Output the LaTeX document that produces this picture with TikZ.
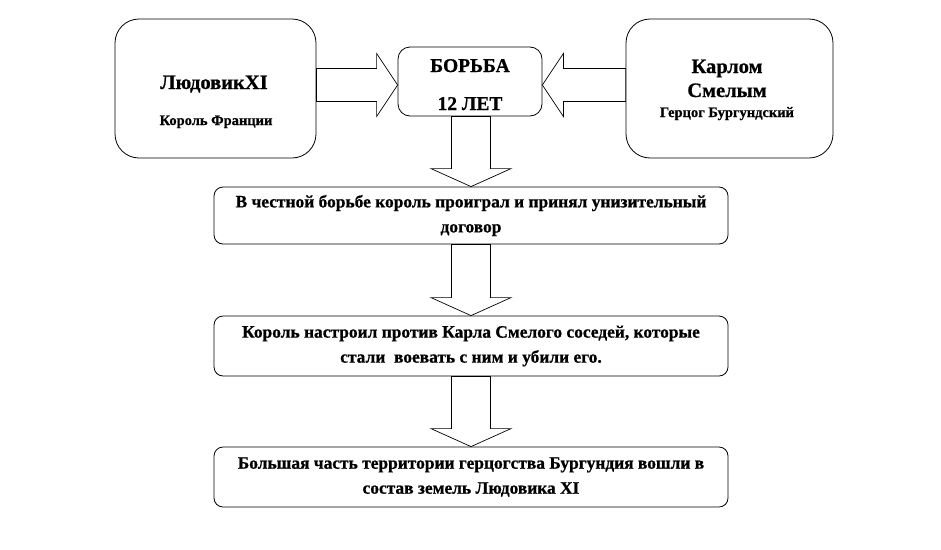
\documentclass[tikz,border=0pt]{standalone}
\usepackage{fontspec}
\setmainfont{Liberation Serif}[BoldFeatures={FakeBold=0.8}]
\usetikzlibrary{calc}
\tikzset{
  box/.style={draw=black, line width=0.8pt, fill=white, inner sep=0pt},
  bigbox/.style={box, rounded corners=24pt, minimum width=201pt, minimum height=139pt},
  midbox/.style={box, rounded corners=12pt, minimum width=144pt, minimum height=69pt},
  stmt/.style={box, rounded corners=9pt, minimum width=514pt, align=center,
    font=\bfseries\fontsize{17.4}{25}\selectfont},
  barrow/.style={draw=black, line width=0.7pt, fill=white, line join=miter},
  bigtxt/.style={anchor=base, inner sep=0pt, font=\bfseries\fontsize{20.5}{24}\selectfont},
  midtxt/.style={anchor=base, inner sep=0pt, font=\bfseries\fontsize{19.5}{22}\selectfont},
  smalltxt/.style={anchor=base, inner sep=0pt, font=\bfseries\fontsize{14.5}{16}\selectfont},
}
\newcommand\vblockarrow[2]{%
  \draw[barrow] let \p1=(#1.south), \p2=(#2.north) in
    (\x2-19.5pt,\y1) -- (\x2-19.5pt,\y2+18pt) -- (\x2-40pt,\y2+18pt) -- (\x2,\y2)
    -- (\x2+40pt,\y2+18pt) -- (\x2+19.5pt,\y2+18pt) -- (\x2+19.5pt,\y1) -- cycle;}
\begin{document}
\begin{tikzpicture}[x=1pt,y=-1pt]
\useasboundingbox (0,0) rectangle (941,549);

% boxes
\node[bigbox] (L) at (215.5,88.5) {};
\node[midbox] (B) at (470,81.5) {};
\node[bigbox, minimum width=207pt] (R) at (729.5,88.5) {};
\node[stmt, minimum height=57pt] (S1) at (471,215.5)
  {В честной борьбе король проиграл и принял унизительный\\договор};
\node[stmt, minimum height=60pt] (S2) at (471,346)
  {Король настроил против Карла Смелого соседей, которые\\стали~ воевать с ним и убили его.};
\node[stmt, minimum height=60pt] (S3) at (471,477)
  {Большая часть территории герцогства Бургундия вошли в\\состав земель Людовика XI};

% texts in the upper boxes
\node[bigtxt] (Lt1) at (214,89) {ЛюдовикXI};
\node[smalltxt] (Lt2) at (216,125) {Король Франции};
\node[midtxt] (Bt1) at (470,72) {БОРЬБА};
\node[midtxt] (Bt2) at (470,110) {12 ЛЕТ};
\node[bigtxt] (Rt1) at (727,73) {Карлом};
\node[bigtxt] (Rt2) at (727,97) {Смелым};
\node[smalltxt] (Rt3) at (727,117) {Герцог Бургундский};

% horizontal block arrows
\draw[barrow] let \p1=(L.east), \p2=(B.west), \p3=($(L.east)!.5!(B.west)$) in
  (\x1,\y3+16.5pt) -- (\x2-21pt,\y3+16.5pt) -- (\x2-21pt,\y3+31.5pt) -- (\x2,\y3)
  -- (\x2-21pt,\y3-31.5pt) -- (\x2-21pt,\y3-16.5pt) -- (\x1,\y3-16.5pt) -- cycle;
\draw[barrow] let \p1=(R.west), \p2=(B.east), \p3=($(R.west)!.5!(B.east)$) in
  (\x1,\y3+16.5pt) -- (\x2+21pt,\y3+16.5pt) -- (\x2+21pt,\y3+31.5pt) -- (\x2,\y3)
  -- (\x2+21pt,\y3-31.5pt) -- (\x2+21pt,\y3-16.5pt) -- (\x1,\y3-16.5pt) -- cycle;

% vertical block arrows
\vblockarrow{B}{S1}
\vblockarrow{S1}{S2}
\vblockarrow{S2}{S3}
\end{tikzpicture}
\end{document}
